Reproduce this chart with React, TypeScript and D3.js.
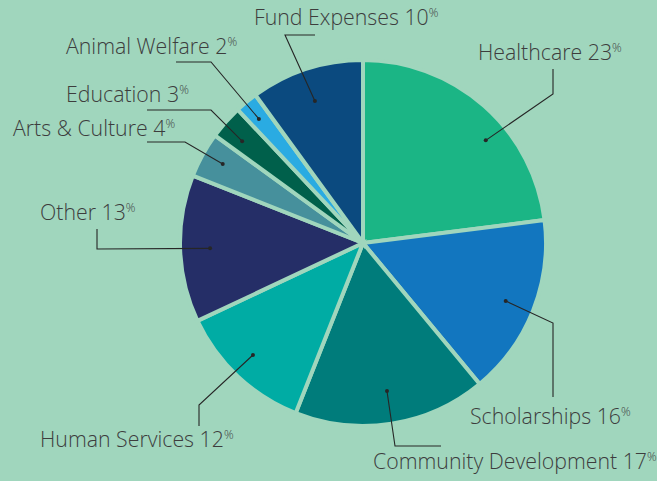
import React from 'react';
import * as d3 from 'd3';

// ---- data ----
const categories = [
  'Healthcare',
  'Scholarships',
  'Community Development',
  'Human Services',
  'Other',
  'Arts & Culture',
  'Education',
  'Animal Welfare',
  'Fund Expenses',
];
const values = [23, 16, 17, 12, 13, 4, 3, 2, 10];
const colors = ['#1bb585', '#1276bf', '#007c7b', '#00aca4', '#252e67', '#46909c', '#00604b', '#2aabe2', '#0b4a7f'];

// ---- layout (annotation positions) ----
const labelPos: [number, number][] = [
  [478, 60], [470, 424], [373, 469], [40, 447], [40, 220], [13, 136], [66, 102], [66, 54], [254, 25],
];
const leaderPts: [number, number][][] = [
  [[553, 94], [553, 69]],
  [[553, 323], [553, 397]],
  [[395, 446], [441, 446]],
  [[199, 405], [199, 426]],
  [[97, 249], [97, 229]],
  [[185, 142], [147, 142]],
  [[211, 110], [147, 110]],
  [[211, 62], [176, 62]],
  [[285, 35], [315, 35]],
];
const dotRadius = [160, 154, 150, 157, 153, 161, 158, 162, 150];
const dotAngleShiftDeg = [8.7, 0.5, -0.2, 1.3, -0.2, 0.6, -1.3, -0.4, -0.7];

const W = 657;
const H = 481;
const CX = 363;
const CY = 243;
const R = 183;
const BG = '#a0d6bd';

export default function App() {
  const pie = d3.pie<number>().sort(null).value((d) => d);
  const arcs = pie(values);
  const arcGen = d3.arc<d3.PieArcDatum<number>>().innerRadius(0).outerRadius(R);
  const line = d3.line();

  return (
    <svg
      width={W}
      height={H}
      style={{ position: 'absolute', left: 0, top: 0, display: 'block' }}
      fontFamily="'Open Sans', sans-serif"
    >
      <rect x={0} y={0} width={W} height={H} fill={BG} />
      <g transform={`translate(${CX},${CY})`}>
        {arcs.map((a, i) => (
          <path key={i} d={arcGen(a) || ''} fill={colors[i]} stroke={BG} strokeWidth={4} strokeLinejoin="miter" />
        ))}
      </g>
      {arcs.map((a, i) => {
        const ang = (a.startAngle + a.endAngle) / 2 + (dotAngleShiftDeg[i] * Math.PI) / 180;
        const dx = CX + Math.sin(ang) * dotRadius[i];
        const dy = CY - Math.cos(ang) * dotRadius[i];
        const pts: [number, number][] = [[dx, dy], ...leaderPts[i]];
        return (
          <g key={'l' + i}>
            <path d={line(pts) || ''} fill="none" stroke="#262626" strokeWidth={1.1} />
            <circle cx={dx} cy={dy} r={2} fill="#262626" />
            <text
              x={labelPos[i][0]}
              y={labelPos[i][1]}
              fontSize={21.3}
              fontWeight={300}
              fill="#3d3d3d"
            >
              {categories[i]} {values[i]}
              <tspan fontSize={12} dy={-8}>%</tspan>
            </text>
          </g>
        );
      })}
    </svg>
  );
}
